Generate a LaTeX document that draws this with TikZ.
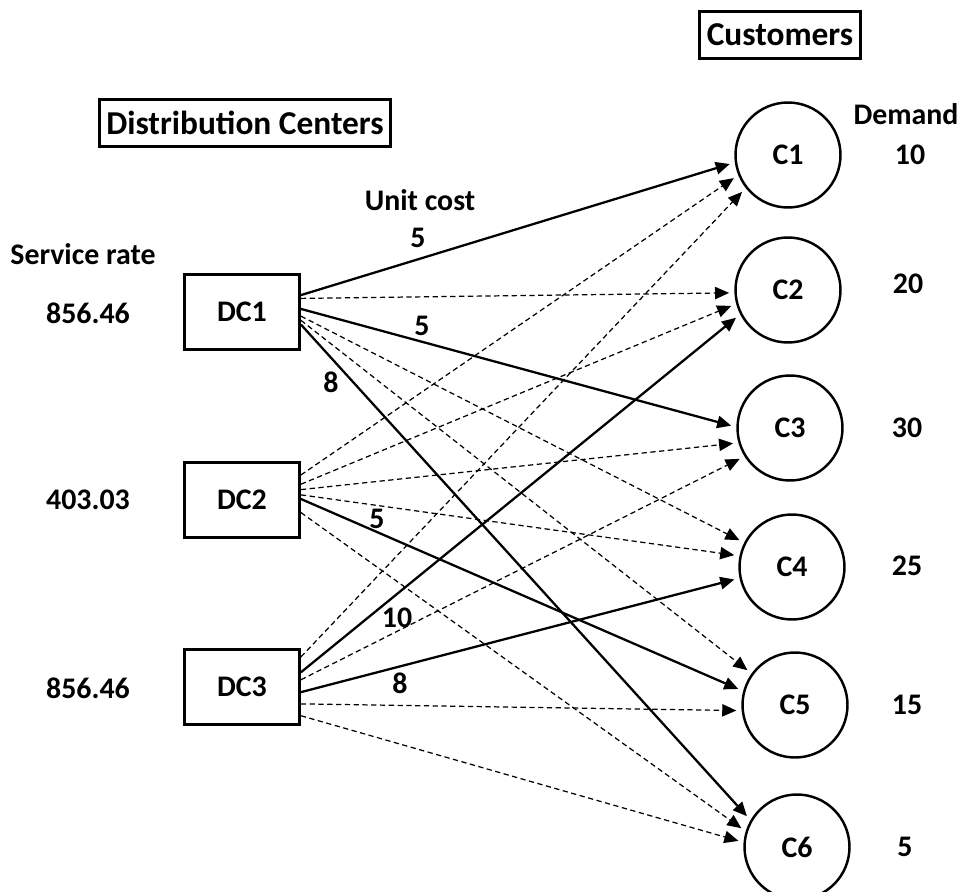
\documentclass[tikz,border=0pt]{standalone}
\usepackage{fontspec}
\setmainfont{Carlito}
\usetikzlibrary{arrows.meta}
\tikzstyle{texto}=[inner sep=0pt,font=\bfseries\fontsize{17}{20}\selectfont]
\tikzstyle{titulo}=[texto,draw,line width=1.6pt,inner sep=4pt,minimum height=0.95cm,font=\bfseries\fontsize{19}{22}\selectfont]
\tikzstyle{caja}=[texto,draw,line width=1.6pt,minimum width=2.3cm,minimum height=1.5cm]
\tikzstyle{cliente}=[texto,draw,circle,line width=1.4pt,minimum size=2.1cm]
\tikzstyle{flecha}=[-{Triangle[length=8pt,width=7pt]},line width=1.3pt,shorten >=3pt]
\tikzstyle{punteada}=[flecha,line width=0.7pt,dash pattern=on 3pt off 2pt]

\begin{document}
\begin{tikzpicture}[x=0.02cm,y=-0.02cm]
    \useasboundingbox (0,0) rectangle (964,892);
    % titles
    \node [titulo] (tdc) at (245,123) {Distribution Centers};
    \node [titulo] (tcl) at (780,35) {Customers};
    \node [texto] (srate) at (83,254) {Service rate};
    \node [texto] (ucost) at (420,200) {Unit cost};
    \node [texto] (dem) at (906,114) {Demand};
    % distribution centers
    \node [caja] (dc1) at (242,312) {DC1};
    \node [caja] (dc2) at (242,500) {DC2};
    \node [caja] (dc3) at (242,687) {DC3};
    \node [texto] (s1) at (88,313) {856.46};
    \node [texto] (s2) at (88,500) {403.03};
    \node [texto] (s3) at (88,688) {856.46};
    % customers
    \node [cliente] (c1) at (788,155) {C1};
    \node [cliente] (c2) at (788,290) {C2};
    \node [cliente] (c3) at (790,428) {C3};
    \node [cliente] (c4) at (792,567) {C4};
    \node [cliente] (c5) at (795,705) {C5};
    \node [cliente] (c6) at (797,847) {C6};
    \node [texto] (d1) at (910,155) {10};
    \node [texto] (d2) at (908,284) {20};
    \node [texto] (d3) at (907,428) {30};
    \node [texto] (d4) at (907,566) {25};
    \node [texto] (d5) at (907,705) {15};
    \node [texto] (d6) at (905,847) {5};
    % chosen routes
    \draw [flecha] (dc1.16) -- (c1.188);
    \draw [flecha] (dc1.3) -- (c3.179);
    \draw [flecha] (dc1.-12) -- (c6.150);
    \draw [flecha] (dc2.1) -- (c5.165);
    \draw [flecha] (dc3.14) -- (c2.207);
    \draw [flecha] (dc3.-5) -- (c4.192);
    % other routes
    \draw [punteada] (dc1.13) -- (c2.183);
    \draw [punteada] (dc1.-4) -- (c4.153);
    \draw [punteada] (dc1.-8) -- (c5.144);
    \draw [punteada] (dc2.23) -- (c1.202);
    \draw [punteada] (dc2.15) -- (c2.195);
    \draw [punteada] (dc2.10) -- (c3.196);
    \draw [punteada] (dc2.5) -- (c4.168);
    \draw [punteada] (dc2.-12) -- (c6.163);
    \draw [punteada] (dc3.27) -- (c1.218);
    \draw [punteada] (dc3.7) -- (c3.212);
    \draw [punteada] (dc3.-16) -- (c5.186);
    \draw [punteada] (dc3.-26) -- (c6.175);
    % costs
    \node [texto] (k1) at (418,238) {5};
    \node [texto] (k2) at (422,326) {5};
    \node [texto] (k3) at (331,382) {8};
    \node [texto] (k4) at (377,519) {5};
    \node [texto] (k5) at (397,618) {10};
    \node [texto] (k6) at (400,683) {8};
\end{tikzpicture}
\end{document}
